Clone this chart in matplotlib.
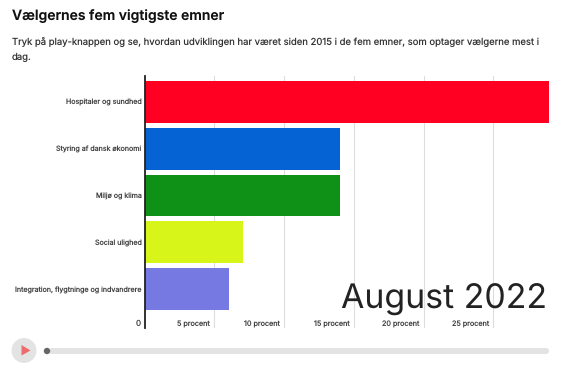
import matplotlib
matplotlib.use('Agg')
import matplotlib.pyplot as plt
from matplotlib.patches import Circle, FancyBboxPatch, Polygon

plt.rcParams['font.family'] = ['Inter', 'DejaVu Sans']
plt.rcParams['text.hinting'] = 'no_hinting'
plt.rcParams['text.hinting_factor'] = 1

# Data
topics = ['Hospitaler og sundhed', 'Styring af dansk økonomi', 'Miljø og klima',
          'Social ulighed', 'Integration, flygtninge og indvandrere']
percent = [29, 14, 14, 7.05, 6.05]
colors = ['#ff0022', '#0563d3', '#0f9118', '#d8f51a', '#7679e2']
ticks = [5, 10, 15, 20, 25]
tick_labels = ['5 procent', '10 procent', '15 procent', '20 procent', '25 procent']

W, H = 571, 373
fig = plt.figure(figsize=(W / 100, H / 100), dpi=100, facecolor='white')

# Pixel overlay for the text and the player controls
bg = fig.add_axes([0, 0, 1, 1])
bg.set_xlim(0, W)
bg.set_ylim(H, 0)
bg.axis('off')

bg.text(12, 19.5, 'Vælgernes fem vigtigste emner', fontsize=10.05, fontweight='semibold', color='#111111')
bg.text(12, 44.5, 'Tryk på play-knappen og se, hvordan udviklingen har været siden 2015 i de fem emner, som optager vælgerne mest i',
        fontsize=6.85, color='#333333')
bg.text(12, 60, 'dag.', fontsize=6.85, color='#333333')

bg.add_patch(Circle((24, 350.5), 12.5, color='#e3e3e3', lw=0))
bg.add_patch(Polygon([[21.5, 345], [21.5, 355.5], [30.5, 350.5]], color='#ee6b6b', lw=0))
bg.add_patch(FancyBboxPatch((49, 348), 500, 6, boxstyle='round,pad=0,rounding_size=3', color='#e3e3e3', lw=0))
bg.add_patch(Circle((47, 351), 3.2, color='#666666', lw=0))

# Chart
ax = fig.add_axes([144.5 / W, 1 - 328 / H, (549.3 - 144.5) / W, (328 - 76) / H])
ax.patch.set_alpha(0)
ax.barh(range(len(topics)), percent, height=0.895, color=colors, zorder=2)
ax.set_xlim(0, 29)
ax.set_ylim(4.83, -0.554)

for s in ['top', 'right', 'bottom']:
    ax.spines[s].set_visible(False)
ax.spines['left'].set_color('#222222')
ax.spines['left'].set_linewidth(1.3)
ax.spines['left'].set_zorder(3)

ax.set_yticks(range(len(topics)))
ax.set_yticklabels(topics, fontsize=5.1, color='#444444')
ax.tick_params(axis='y', length=0, pad=2.2)
ax.set_xticks(ticks)
ax.set_xticklabels([])
ax.tick_params(axis='x', length=0)
ax.grid(axis='x', color='#dddddd', lw=0.8, zorder=1)

trans = ax.get_xaxis_transform()
for t, lab in zip(ticks, tick_labels):
    ax.annotate(lab, (t, 0), xycoords=trans, xytext=(-3, 0), textcoords='offset points',
                ha='right', va='bottom', fontsize=5.2, color='#444444')
ax.annotate('0', (0, 0), xycoords=trans, xytext=(-2.8, 0), textcoords='offset points',
            ha='right', va='bottom', fontsize=5.8, color='#444444')

bg.set_zorder(0)
ax.set_zorder(1)
fg = fig.add_axes([0, 0, 1, 1])
fg.set_xlim(0, W)
fg.set_ylim(H, 0)
fg.axis('off')
fg.set_zorder(2)
fg.text(547, 309, 'August 2022', fontsize=24.4, ha='right', color='#222222')

fig.savefig('out.png', dpi=100)
